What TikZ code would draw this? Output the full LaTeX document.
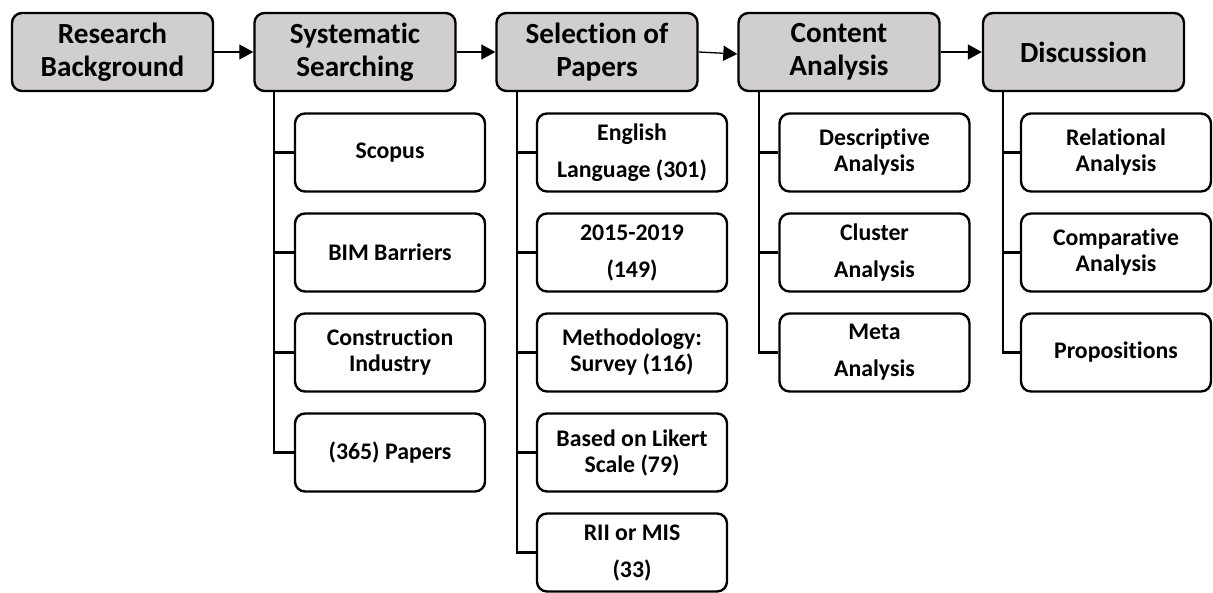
\documentclass[tikz,border=0pt]{standalone}
\usepackage{fontspec}
\setmainfont{Carlito}[Ligatures=NoCommon]
\usepackage{xcolor}
\usepackage{tikz}
\usetikzlibrary{
    arrows.meta
}
\definecolor{headgray}{RGB}{208,206,206}
\tikzset{
    head/.style={draw, line width=1.2pt, rounded corners=5pt, fill=headgray, align=center,
        minimum width=100.5pt, minimum height=39pt, inner sep=0pt,
        font=\fontsize{14.6}{16.5}\selectfont\bfseries},
    leaf/.style={draw, line width=1.2pt, rounded corners=5pt, fill=white, align=center,
        minimum width=95pt, minimum height=39pt, inner sep=0pt,
        font=\fontsize{11.9}{13}\selectfont\bfseries},
    flow/.style={-{Triangle[length=7pt,width=7.5pt]}, line width=0.65pt},
    tree/.style={line width=1.1pt}
}

\begin{document}
\begin{tikzpicture}[x=0.5pt, y=-0.5pt]
    \useasboundingbox (0,0) rectangle (1213,593);

    % steps of the review
    \draw (112.5,52) node[head](hrb){Research\\Background};
    \draw (355,52)   node[head](hss){Systematic\\Searching};
    \draw (597,52)   node[head](hsp){Selection of\\Papers};
    \draw (839,52)   node[head](hca){Content\\Analysis};
    \draw (1083.5,52) node[head](hdi){Discussion};

    \draw[flow] (hrb) -- (hss);
    \draw[flow] (hss) -- (hsp);
    \draw[flow] (hsp.east) -- ([yshift=-1pt]hca.west);
    \draw[flow] (hca) -- (hdi);

    % trunks under the steps
    \coordinate (k1) at (274,92);
    \coordinate (k2) at (517,92);
    \coordinate (k3) at (759,92);
    \coordinate (k4) at (1003,92);

    % searching
    \draw (390,152.5) node[leaf](ssc){Scopus};
    \draw (390,252.5) node[leaf](sbb){BIM Barriers};
    \draw (390,352.5) node[leaf](sci){Construction\\Industry};
    \draw (390,452.5) node[leaf](spp){(365) Papers};

    \draw[tree] (k1) |- (ssc);
    \draw[tree] (k1) |- (sbb);
    \draw[tree] (k1) |- (sci);
    \draw[tree] (k1) |- (spp);

    % selection
    \draw (632,152.5) node[leaf](pen){English\\[5.5pt]Language (301)};
    \draw (632,252.5) node[leaf](pyr){2015-2019\\[5.5pt](149)};
    \draw (632,352.5) node[leaf](pms){Methodology:\\Survey (116)};
    \draw (632,452.5) node[leaf](pls){Based on Likert\\Scale (79)};
    \draw (632,552.5) node[leaf](pri){RII or MIS\\[5.5pt](33)};

    \draw[tree] (k2) |- (pen);
    \draw[tree] (k2) |- (pyr);
    \draw[tree] (k2) |- (pms);
    \draw[tree] (k2) |- (pls);
    \draw[tree] (k2) |- (pri);

    % content analysis
    \draw (874.5,152.5) node[leaf](cde){Descriptive\\Analysis};
    \draw (874.5,252.5) node[leaf](ccl){Cluster\\[5.5pt]Analysis};
    \draw (874.5,352.5) node[leaf](cme){Meta\\[5.5pt]Analysis};

    \draw[tree] (k3) |- (cde);
    \draw[tree] (k3) |- (ccl);
    \draw[tree] (k3) |- (cme);

    % discussion
    \draw (1116,152.5) node[leaf](dre){Relational\\Analysis};
    \draw (1116,252.5) node[leaf](dco){Comparative\\Analysis};
    \draw (1116,352.5) node[leaf](dpr){Propositions};

    \draw[tree] (k4) |- (dre);
    \draw[tree] (k4) |- (dco);
    \draw[tree] (k4) |- (dpr);
\end{tikzpicture}
\end{document}
